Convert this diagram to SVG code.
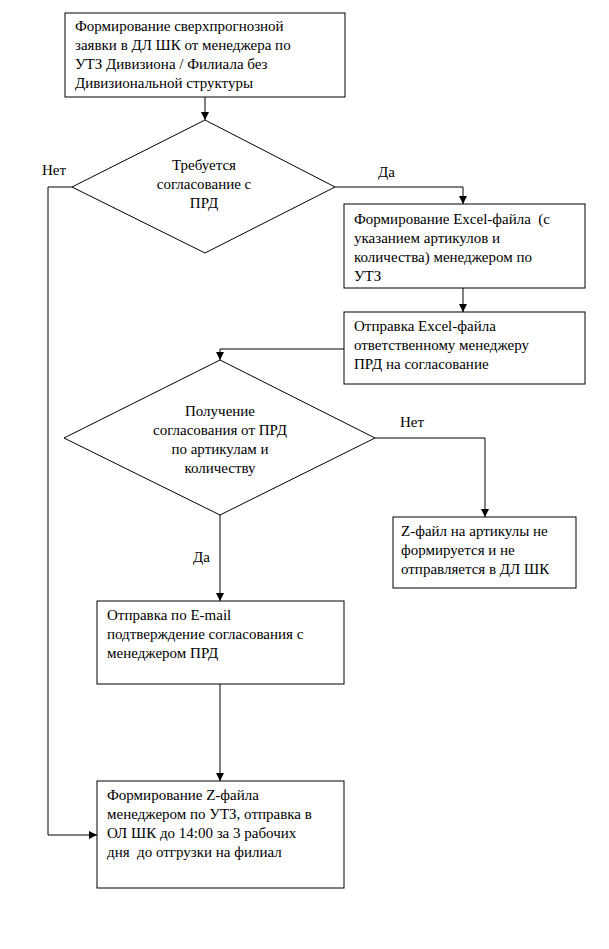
<svg xmlns="http://www.w3.org/2000/svg" width="609" height="949" viewBox="0 0 609 949">
<defs>
<style>
.n{fill:#fff;stroke:#000;stroke-width:1}
.t{font-family:"Liberation Serif","Times New Roman",serif;font-size:15px;fill:#000;white-space:pre}
.c{text-anchor:middle}
.e{fill:none;stroke:#000;stroke-width:1}
</style>
<marker id="a" viewBox="0 0 10 10" refX="10" refY="5" markerWidth="8" markerHeight="8" markerUnits="userSpaceOnUse" orient="auto"><path d="M0,0L10,5L0,10z" fill="#000"/></marker>
</defs>
<rect width="609" height="949" fill="#fff"/>
<g id="edges">
<path class="e" d="M205,97V120" marker-end="url(#a)"/>
<path class="e" d="M335,187H463V204" marker-end="url(#a)"/>
<path class="e" d="M72,187H48V835H97" marker-end="url(#a)"/>
<path class="e" d="M463,288V312" marker-end="url(#a)"/>
<path class="e" d="M344,349H220V360" marker-end="url(#a)"/>
<path class="e" d="M375,438H485V517" marker-end="url(#a)"/>
<path class="e" d="M220,515V601" marker-end="url(#a)"/>
<path class="e" d="M220,684V781" marker-end="url(#a)"/>
<text class="t" x="42" y="175">Нет</text>
<text class="t" x="378" y="177">Да</text>
<text class="t" x="400" y="427">Нет</text>
<text class="t" x="193" y="562">Да</text>
</g>
<g id="n1">
<rect class="n" x="65" y="13" width="280" height="84"/>
<text class="t" x="75" y="31">Формирование сверхпрогнозной</text>
<text class="t" x="75" y="50">заявки в ДЛ ШК от менеджера по</text>
<text class="t" x="75" y="69">УТЗ Дивизиона / Филиала без</text>
<text class="t" x="75" y="88">Дивизиональной структуры</text>
</g>
<g id="d1">
<path class="n" d="M205,120L335,187L205,253L72,187Z"/>
<text class="t c" x="204" y="170">Требуется</text>
<text class="t c" x="204" y="189">согласование с</text>
<text class="t c" x="204" y="208">ПРД</text>
</g>
<g id="n2">
<rect class="n" x="344" y="204" width="241" height="84"/>
<text class="t" x="354" y="224" xml:space="preserve">Формирование Excel-файла  (с</text>
<text class="t" x="354" y="243">указанием артикулов и</text>
<text class="t" x="354" y="262">количества) менеджером по</text>
<text class="t" x="354" y="281">УТЗ</text>
</g>
<g id="n3">
<rect class="n" x="344" y="312" width="241" height="72"/>
<text class="t" x="354" y="331">Отправка Excel-файла</text>
<text class="t" x="354" y="350">ответственному менеджеру</text>
<text class="t" x="354" y="369">ПРД на согласование</text>
</g>
<g id="d2">
<path class="n" d="M220,360L375,438L220,515L64,438Z"/>
<text class="t c" x="220" y="416">Получение</text>
<text class="t c" x="220" y="435">согласования от ПРД</text>
<text class="t c" x="220" y="454">по артикулам и</text>
<text class="t c" x="220" y="473">количеству</text>
</g>
<g id="n4">
<rect class="n" x="393" y="517" width="183" height="71"/>
<text class="t" x="401" y="536">Z-файл на артикулы не</text>
<text class="t" x="401" y="555">формируется и не</text>
<text class="t" x="401" y="574">отправляется в ДЛ ШК</text>
</g>
<g id="n5">
<rect class="n" x="97" y="601" width="247" height="83"/>
<text class="t" x="107" y="620">Отправка по E-mail</text>
<text class="t" x="107" y="639">подтверждение согласования с</text>
<text class="t" x="107" y="658">менеджером ПРД</text>
</g>
<g id="n6">
<rect class="n" x="97" y="781" width="247" height="107"/>
<text class="t" x="107" y="800">Формирование Z-файла</text>
<text class="t" x="107" y="819">менеджером по УТЗ, отправка в</text>
<text class="t" x="107" y="838">ОЛ ШК до 14:00 за 3 рабочих</text>
<text class="t" x="107" y="857" xml:space="preserve">дня  до отгрузки на филиал</text>
</g>
</svg>
